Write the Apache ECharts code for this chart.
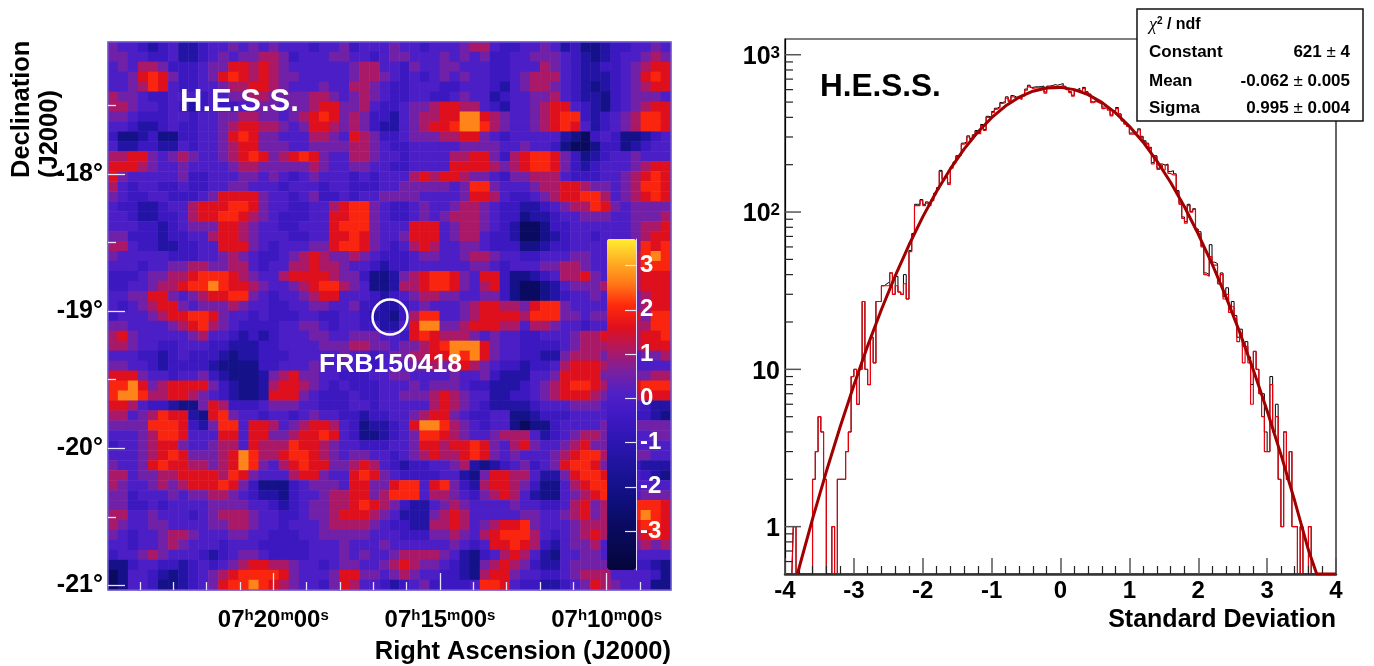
<!DOCTYPE html>
<html><head><meta charset="utf-8">
<style>html,body{margin:0;padding:0;background:#fff}#c{width:1374px;height:666px}</style>
<script src="https://cdn.jsdelivr.net/npm/echarts@6/dist/echarts.min.js"></script>
</head><body><div id="c"></div>
<script>
// ---- significance map: one digit per cell, top row first, left to right
const mapRows = [
"54432342 23445454 54443445 34445443 44456643 34454231 12334454",
"55443342 23454556 65344455 44345544 45454533 44555432 12344565",
"45466533 34557767 65444444 56644354 45544433 44465432 23345677",
"44578753 34578767 65544444 56654343 45454433 45666432 22345787",
"44568743 34456677 65444544 66543344 43344432 45665432 12345677",
"65543344 43445566 55556654 56543344 33454423 44556432 21345554",
"66544343 23433445 54556775 56433455 67766432 44567743 21345677",
"55433344 34455665 54567875 65332456 67799765 44567883 23456887",
"44322343 34456776 65457765 65322456 77899865 44567874 23456887",
"31123113 34457875 54446654 76533455 56677543 44444210 34311234",
"42233224 34456775 55445555 66543344 44455554 45443100 13312344",
"66775456 54456787 56787544 66544344 44667753 67887531 23445444",
"77765445 44445665 55556544 55443344 44777765 67887532 34445677",
"75444445 33444554 54345444 34344467 67765543 55666433 34456787",
"64344334 33445544 43444344 33344555 55458854 44566776 55456887",
"54334433 34577775 44345334 34455554 44457764 33456778 86456787",
"43322344 67778875 44334467 88543345 44566543 32234566 87545555",
"44322334 67788765 43334477 88543345 45666543 31223445 55445556",
"44433234 55577654 43344478 88544477 74566543 20013344 44445667",
"55333233 44677654 44334477 87544577 74566433 20012344 34445677",
"66433223 34477754 34445578 87543467 64455433 31123344 44445878",
"54444433 34456543 34567655 65433345 54456654 43344455 44456898",
"44434455 66556643 44667665 44323344 44445543 44455665 44556888",
"33345566 78887654 46777765 53112567 88754773 11234667 54456777",
"33445667 88987765 44567886 54112667 88754673 10012455 56666777",
"44557754 56778854 34456774 44323456 65544553 10012344 54565677",
"43456775 45556544 33445544 53322345 44456776 65788544 44455677",
"34445677 88754434 33344334 43221368 84456777 76888554 55577588",
"55444456 78654333 34455434 43322479 95567776 64665443 44466688",
"67544444 56443232 34445544 55544378 76665454 43344456 67566778",
"66544334 44332223 34444555 66554556 78999754 43333456 66666777",
"44433234 33321223 33444445 44345566 77989754 43322566 65444556",
"55443233 33211113 34445444 43344455 65676543 32334677 76434444",
"77754434 45321112 56755443 33445544 44544532 22445777 75545566",
"88975677 77532112 67765434 33344454 55543322 23456788 76677888",
"89986677 65432112 77754333 43344555 67654422 33456777 65556777",
"77643321 15763334 55544333 44344444 67654322 22344455 54444322",
"66456877 21785443 44345443 32334456 77543344 11233344 44443321",
"55558887 32588477 64567764 31223479 98654344 10113444 45555555",
"44456887 44477477 55677874 31123458 87654456 66423456 65434455",
"34456775 44566476 66877654 43334457 76778754 67544567 55544444",
"44456787 55567986 67887654 55443456 76678754 54445678 86545544",
"54457877 66567985 46787755 67643233 44562123 45345788 75433222",
"66455667 77768754 44677544 78754333 34421577 66422578 87544321",
"65445656 77787531 11345554 77557884 78532677 65311467 88644444",
"55344454 55665432 21344566 77568884 66543567 64211456 78754555",
"55334344 44555544 32345566 78765322 45654444 54433467 56678887",
"66445444 34566654 43345567 77654222 56764444 45544567 56678987",
"65445544 44556654 43444566 66543322 66764567 78544456 66667887",
"54344566 54445544 33344555 55444333 55654678 88643456 76666787",
"44344565 44434443 33334445 44454444 44543477 87632455 64455656",
"34456544 43234554 33334445 45445666 65421346 76421445 54454444",
"11344332 34345677 66544345 54456765 54321567 65322455 55543321",
"01443212 34567888 87544457 75545654 43321677 54433456 66444431",
"01443112 34578898 76544357 64432345 33334887 43322345 76544411"
];
const mapLevels = [-2.9, -2.0, -1.3, -0.5, 0, 0.5, 1.05, 1.6, 2.0, 2.7];
const raMajor = [20, 15, 10];
const raMinor = [24, 23, 22, 21, 19, 18, 17, 16, 14, 13, 12, 11, 9];
const decMajor = [-18, -19, -20, -21];
const decMinor = [-17.5, -18.5, -19.5, -20.5];
const barTicks = [-3, -2, -1, 0, 1, 2, 3];
const frbPosition = [16.5, -19.043];

// ---- significance distribution, counts per bin (0.5 = empty bin, axis floor)
const redCounts = [
.5,.5,.5,1,.5,.5,.5,.5,.5,.5,
2,3,5,4,2,.5,.5,1,.5,2,
2,2,3,4,9,10,6,10,27,10,
8,16,11,27,27,34,34,34,41,30,
34,31,30,35,28,56,72,110,110,118,
110,114,110,118,130,140,181,160,165,150,
190,205,225,230,270,275,300,290,305,325,
315,355,330,400,395,430,450,460,490,495,
530,505,540,530,530,520,545,595,625,610,
615,615,615,620,570,620,625,628,625,630,
634,620,600,575,545,590,600,580,610,575,
555,495,505,495,485,455,460,445,408,435,
455,415,380,362,350,313,313,320,333,298,
280,270,254,202,224,187,199,185,199,176,
172,172,135,112,91,85,110,100,104,77,
73,60,40,39,52,46,46,35,40,28,
30,23,25,21,15,17,11,14,11,6,
13,10,7,5,3,3,8,4,5,2,
1,4,2,3,1,1,.5,1,.5,.5,
1,.5,.5,.5,.5,.5,.5,.5,.5,.5];
const blackCounts = [
.5,.5,.5,1,.5,.5,.5,.5,.5,.5,
2,3,5,4,2,.5,.5,1,.5,2,
2,2,3,4,9,10,6,10,27,10,
8,16,11,27,27,34,35,36,41,30,
39,31,30,40,28,57,73,112,112,120,
112,116,112,120,132,143,184,163,168,153,
193,208,228,234,274,279,305,294,310,330,
320,360,335,406,401,436,457,467,497,503,
540,514,550,539,538,529,554,605,640,620,
625,625,627,632,580,632,636,645,640,648,
655,630,610,582,553,598,612,588,620,582,
563,502,512,502,492,465,467,452,414,441,
462,421,386,367,355,318,318,325,338,303,
284,274,258,206,228,190,202,199,202,181,
183,175,137,114,93,87,112,101,105,78,
75,61,41,40,62,48,47,35,41,29,
33,24,27,22,16,18,14,15,12,8,
13,10,7,7,4,3,9,4,6,2,
1,4,2,3,1,1,.5,1,.5,.5,
1,.5,.5,.5,.5,.5,.5,.5,.5,.5];
const fitX = [-3.82,-3.6,-3.4,-3.2,-3,-2.8,-2.6,-2.4,-2.2,-2,-1.8,-1.6,-1.4,-1.2,-1,-.8,-.6,-.4,-.2,0,.2,.4,.6,.8,1,1.2,1.4,1.6,1.8,2,2.2,2.4,2.6,2.8,3,3.2,3.4,3.6,3.72,4];
const fitY = [.5,1.12,2.24,4.3,7.93,14.1,24,39.3,61.7,93.2,135,188,251,323,398,472,537,586,615,620,600,558,498,427,351,278,211,154,108,72.5,46.9,29.1,17.3,9.9,5.45,2.88,1.46,.71,.5,.5];
const logMajor = [1, 10, 100, 1000];
const logMinor = [.6,.7,.8,.9,2,3,4,5,6,7,8,9,20,30,40,50,60,70,80,90,200,300,400,500,600,700,800,900];
const statNames = ["Constant", "Mean", "Sigma"];
const statValues = [["621", "4"], ["-0.062", "0.005"], ["0.995", "0.004"]];

const F = '"Liberation Sans", Arial, sans-serif';
const rows = mapRows.map(r => r.replace(/ /g, ''));
const nCols = rows[0].length;
const heat = [];
rows.forEach((r, y) => { for (let x = 0; x < nCols; x++) heat.push([x, y, mapLevels[+r[x]]]); });
const cat = n => Array.from({length: n}, (_, i) => i);
const binCentre = i => -4 + 0.04 * (i + 0.5);
const ramp = ['#05053a','#080850','#0a0a62','#0e0e78','#16128e','#2214a2','#3016b4','#4018c4','#4f20c6','#7a20a0','#b01860','#e0101c','#ff2a0c','#ff7a18','#ffb024','#ffee30'];
const sup = {b:{fontFamily:F,fontWeight:'bold',fontSize:24,color:'#000'}, s:{fontFamily:F,fontWeight:'bold',fontSize:15,color:'#000',verticalAlign:'top'}};
const supY = {b:{fontFamily:F,fontWeight:'bold',fontSize:25,color:'#000'}, s:{fontFamily:F,fontWeight:'bold',fontSize:17,color:'#000',verticalAlign:'top'}};
const tickSeries = (vals, len, col, w) => ({
  type:'custom', xAxisIndex:4, yAxisIndex:4, coordinateSystem:'cartesian2d', clip:false, silent:true, z:6,
  data: vals.map(v => [-4, v]),
  renderItem: (p, api) => { const c = api.coord([-4, api.value(1)]);
    return {type:'line', shape:{x1:c[0], y1:c[1], x2:c[0]+len, y2:c[1]}, style:{stroke:col, lineWidth:w}}; }
});
const txt = (x, y, text, size, fill, extra) => ({type:'text', x, y, z:50,
  style:Object.assign({text, font:`bold ${size}px ${F}`, fill, textAlign:'left', textVerticalAlign:'middle'}, extra||{})});
const hidden = {show:false};
const rStat = {p:{fontFamily:F,fontWeight:'normal',fontSize:17,color:'#000'}, v:{fontFamily:F,fontWeight:'bold',fontSize:17,color:'#000'}};
const statY = [52, 81, 108];

const option = {
  animation:false, backgroundColor:'#fff',
  grid:[
    {left:108, top:42, width:563, height:548},
    {left:108, top:42, width:563, height:548, show:true, borderColor:'#6d55d2', borderWidth:1.5, backgroundColor:'transparent', z:3},
    {left:607, top:239, width:29, height:331},
    {left:785, top:39, width:551, height:535, show:true, borderColor:'#000', borderWidth:1.2}
  ],
  visualMap:{type:'continuous', seriesIndex:0, min:-3.88, max:3.6, inRange:{color:ramp}, calculable:false,
    left:607, top:239, itemWidth:29, itemHeight:331, padding:0, text:null, z:4},
  xAxis:[
    {gridIndex:0, type:'category', data:cat(nCols), show:false},
    {gridIndex:1, type:'value', inverse:true, min:8.07, max:24.96, position:'bottom', splitLine:hidden, axisLine:hidden, z:5,
      axisTick:{inside:true, length:17, customValues:raMajor, lineStyle:{color:'#e8e4ff', width:1.3}},
      axisLabel:{customValues:raMajor, margin:18, formatter:v => `{b|07}{s|h}{b|${v}}{s|m}{b|00}{s|s}`, rich:sup}},
    {gridIndex:1, type:'value', inverse:true, min:8.07, max:24.96, position:'bottom', splitLine:hidden, axisLine:hidden, z:5,
      axisTick:{inside:true, length:8, customValues:raMinor, lineStyle:{color:'#e8e4ff', width:1.3}}, axisLabel:hidden},
    {gridIndex:2, type:'value', min:0, max:1, show:false},
    {gridIndex:3, type:'value', min:-4, max:4, interval:1, splitLine:hidden, z:5,
      axisLine:{lineStyle:{color:'#333', width:2.5}},
      axisTick:{inside:true, length:16, lineStyle:{color:'#555', width:1.5}},
      minorTick:{show:true, splitNumber:5, length:8, lineStyle:{color:'#222', width:1.2}},
      axisLabel:{margin:5, fontFamily:F, fontWeight:'bold', fontSize:24, color:'#000'}}
  ],
  yAxis:[
    {gridIndex:0, type:'category', inverse:true, data:cat(rows.length), show:false},
    {gridIndex:1, type:'value', min:-21.034, max:-17.037, splitLine:hidden, axisLine:{show:false, onZero:false}, z:5,
      axisTick:{inside:true, length:17, customValues:decMajor, lineStyle:{color:'#e8e4ff', width:1.3}},
      axisLabel:{customValues:decMajor, margin:5, fontFamily:F, fontWeight:'bold', fontSize:25, color:'#000', formatter:v => v + '°'}},
    {gridIndex:1, type:'value', min:-21.034, max:-17.037, position:'left', splitLine:hidden, axisLine:{show:false, onZero:false}, z:5,
      axisTick:{inside:true, length:8, customValues:decMinor, lineStyle:{color:'#e8e4ff', width:1.3}}, axisLabel:hidden},
    {gridIndex:2, type:'value', min:-3.88, max:3.6, position:'right', splitLine:hidden, z:6,
      axisLine:{show:true, onZero:false, lineStyle:{color:'#e0dcf8', width:1}},
      axisTick:{inside:true, length:11, customValues:barTicks, lineStyle:{color:'#e8e4f8', width:1.2}},
      axisLabel:{customValues:barTicks, margin:4, padding:[4,0,0,0], fontFamily:F, fontWeight:'bold', fontSize:24, color:'#fff'}},
    {gridIndex:3, type:'log', logBase:10, min:.5, max:1259, splitLine:hidden, z:5,
      axisLine:{show:true, onZero:false, lineStyle:{color:'#000', width:1.2}}, axisTick:hidden,
      axisLabel:{margin:5, padding:[5,0,0,0], showMinLabel:false, showMaxLabel:false, rich:supY,
        formatter:v => { const e = Math.round(Math.log10(v)); if (Math.abs(Math.log10(v)-e) > 1e-6) return '';
          return e === 0 ? '{b|1}' : e === 1 ? '{b|10}' : `{b|10}{s|${e}}`; }}}
  ],
  series:[
    {type:'heatmap', xAxisIndex:0, yAxisIndex:0, data:heat, progressive:0, silent:true},
    {type:'scatter', xAxisIndex:1, yAxisIndex:1, data:[frbPosition], symbolSize:35, z:8, silent:true,
      itemStyle:{color:'rgba(0,0,0,0)', borderColor:'#fff', borderWidth:2.5, opacity:1}},
    {type:'line', xAxisIndex:4, yAxisIndex:4, step:'middle', showSymbol:false, symbol:'none', data:blackCounts.map((v,i)=>[binCentre(i),v]), lineStyle:{color:'#000', width:1}, z:3, silent:true},
    {type:'line', xAxisIndex:4, yAxisIndex:4, step:'middle', showSymbol:false, symbol:'none', data:redCounts.map((v,i)=>[binCentre(i),v]), lineStyle:{color:'#e8000c', width:1.2}, z:4, silent:true},
    {type:'line', xAxisIndex:4, yAxisIndex:4, showSymbol:false, symbol:'none', data:fitX.map((x,i)=>[x,fitY[i]]), lineStyle:{color:'#a00000', width:3}, z:5, silent:true},
    tickSeries(logMajor, 16, '#555', 1.5),
    tickSeries(logMinor, 8, '#222', 1.2)
  ],
  graphic:[
    txt(180, 102, 'H.E.S.S.', 31, '#fff'),
    txt(319, 365, 'FRB150418', 26.5, '#fff'),
    txt(671, 652, 'Right Ascension (J2000)', 25.5, '#000', {textAlign:'right'}),
    {type:'text', x:22, y:178, rotation:Math.PI/2, z:50, style:{text:'Declination', font:`bold 25.5px ${F}`, fill:'#000', textAlign:'left', textVerticalAlign:'middle'}},
    {type:'text', x:50, y:178, rotation:Math.PI/2, z:50, style:{text:'(J2000)', font:`bold 25.5px ${F}`, fill:'#000', textAlign:'left', textVerticalAlign:'middle'}},
    txt(820, 87, 'H.E.S.S.', 31.5, '#000'),
    txt(1336, 620, 'Standard Deviation', 25, '#000', {textAlign:'right'}),
    {type:'rect', z:60, shape:{x:1137, y:9, width:226, height:112}, style:{fill:'#fff', stroke:'#111', lineWidth:1.5}},
    {type:'text', x:1149, y:25, z:61, style:{text:'{g|χ}{u|2}{v| / ndf}', textVerticalAlign:'middle', rich:{
      g:{fontFamily:'"Liberation Serif"', fontStyle:'italic', fontSize:18, color:'#000'},
      u:{fontFamily:F, fontWeight:'bold', fontSize:10, color:'#000', verticalAlign:'top'},
      v:{fontFamily:F, fontWeight:'bold', fontSize:16, color:'#000'}}}},
    txt(1350, 24, '304 / 173', 16, '#000', {textAlign:'right'}),
    ...statNames.map((n,i) => Object.assign(txt(1149, statY[i], n, 17, '#000'), {z:61})),
    ...statValues.map((v,i) => ({type:'text', x:1350, y:statY[i], z:61, style:{text:`{v|${v[0]}}{p| ± }{v|${v[1]}}`, textAlign:'right', textVerticalAlign:'middle', rich:rStat}}))
  ]
};
echarts.init(document.getElementById('c'), null, {renderer:'canvas'}).setOption(option);
</script></body></html>
